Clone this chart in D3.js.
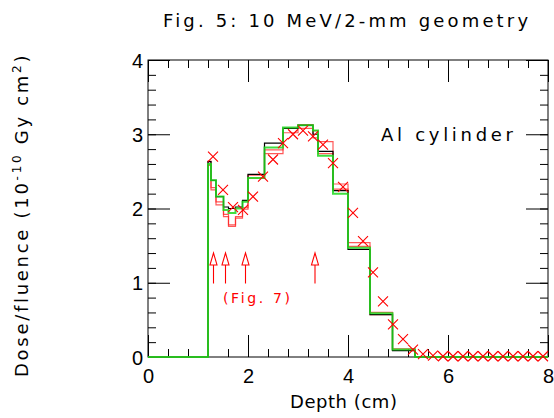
<!DOCTYPE html>
<html>
<head>
<meta charset="utf-8">
<script src="https://cdn.jsdelivr.net/npm/d3@7"></script>
<style>
  body { margin: 0; background: #fff; }
  text { font-family: "DejaVu Sans", "Liberation Sans", sans-serif; }
</style>
</head>
<body>
<script>
var chartOption = {
  width: 554,
  height: 418,
  left: 148,
  right: 548,
  top: 60,
  bottom: 357
};

// bin edges in cm, shared by the three histograms
var binEdges = [0, 1.2, 1.26, 1.36, 1.51, 1.61, 1.75, 1.89, 2.0, 2.33, 2.7, 3.0, 3.3, 3.4, 3.7, 4.0, 4.44, 4.89, 5.34, 8.0];
var blackValues = [0, 2.63, 2.38, 2.16, 2.02, 2.0, 2.02, 2.11, 2.46, 2.88, 3.08, 3.12, 3.0, 2.77, 2.24, 1.45, 0.57, 0.085, 0];
var greenValues = [0, 2.6, 2.38, 2.16, 1.98, 1.94, 2.0, 2.09, 2.41, 2.82, 3.09, 3.12, 3.05, 2.71, 2.2, 1.47, 0.59, 0.1, 0];
var redLow = [0, 2.58, 2.25, 2.05, 1.89, 1.76, 1.87, 1.99, 2.41, 2.74, 3.02, 3.08, 2.95, 2.74, 2.26, 1.49, 0.57, 0.09, 0];
var redHigh = [0, 2.64, 2.28, 2.09, 1.92, 1.78, 1.89, 2.01, 2.45, 2.79, 3.08, 3.13, 3.05, 2.9, 2.33, 1.54, 0.6, 0.11, 0];

// measured points (red crosses)
var crossDepth = [1.3, 1.5, 1.7, 1.9, 2.1, 2.3, 2.5, 2.7, 2.9, 3.1, 3.3, 3.5, 3.7, 3.9, 4.1, 4.3, 4.5, 4.7, 4.9, 5.1, 5.3,
                  5.5, 5.7, 5.9, 6.1, 6.3, 6.5, 6.7, 6.9, 7.1, 7.3, 7.5, 7.7, 7.9];
var crossDose = [2.70, 2.25, 2.02, 1.98, 2.16, 2.43, 2.66, 2.88, 3.0, 3.05, 2.97, 2.86, 2.61, 2.29, 1.94, 1.56, 1.14, 0.75, 0.44, 0.24, 0.1,
                 0.04, 0.02, 0.01, 0.01, 0.01, 0.01, 0.01, 0.01, 0.01, 0.01, 0.01, 0.01, 0.01];

// arrows pointing at the depths used in Fig. 7
var arrowDepth = [1.31, 1.55, 1.95, 3.34];

var xTicks = [0, 2, 4, 6, 8];
var yTicks = [0, 1, 2, 3, 4];

var x = d3.scaleLinear().domain([0, 8]).range([chartOption.left, chartOption.right]);
var y = d3.scaleLinear().domain([0, 4]).range([chartOption.bottom, chartOption.top]);

var svg = d3.select('body')
            .append('svg')
            .attr('width', chartOption.width)
            .attr('height', chartOption.height);

// squeeze or stretch a text to a given width with letter spacing
var fitText = function(sel, target){
  var n = sel.text().length;
  var len = sel.node().getComputedTextLength();
  sel.attr('letter-spacing', ((target - len) / Math.max(n - 1, 1)).toFixed(2));
};

var minorX = d3.range(0, 8.001, 0.4).map(function(d){ return +d.toFixed(1); });
var minorY = d3.range(0, 4.001, 0.2).map(function(d){ return +d.toFixed(1); });

var axisGroup = svg.append('g');

var addAxis = function(axis, tx, ty, labels){
  var g = axisGroup.append('g')
                   .attr('transform', 'translate(' + tx + ',' + ty + ')')
                   .call(axis);
  g.select('.domain').remove();
  g.selectAll('line').attr('stroke', '#000').attr('stroke-width', 1);
  if (!labels) g.selectAll('text').remove();
  return g;
};

// ticks point inward on all four sides
addAxis(d3.axisBottom(x).tickValues(minorX).tickSize(-8), 0, chartOption.bottom, false);
addAxis(d3.axisTop(x).tickValues(minorX).tickSize(-8), 0, chartOption.top, false);
addAxis(d3.axisLeft(y).tickValues(minorY).tickSize(-8), chartOption.left, 0, false);
addAxis(d3.axisRight(y).tickValues(minorY).tickSize(-8), chartOption.right, 0, false);

var xAxis = addAxis(d3.axisBottom(x).tickValues(xTicks).tickFormat(d3.format('d')).tickSize(-22).tickPadding(0), 0, chartOption.bottom, true);
addAxis(d3.axisTop(x).tickValues(xTicks).tickSize(-22), 0, chartOption.top, false);
var yAxis = addAxis(d3.axisLeft(y).tickValues(yTicks).tickFormat(d3.format('d')).tickSize(-22).tickPadding(0), chartOption.left, 0, true);
addAxis(d3.axisRight(y).tickValues(yTicks).tickSize(-22), chartOption.right, 0, false);

xAxis.selectAll('text')
     .attr('y', 12)
     .attr('dy', '0.71em')
     .style('font-family', '"Liberation Sans", sans-serif')
     .style('font-size', '20px')
     .attr('fill', '#000');
yAxis.selectAll('text')
     .attr('x', -5)
     .attr('dy', '0.36em')
     .style('font-family', '"Liberation Sans", sans-serif')
     .style('font-size', '20px')
     .attr('fill', '#000');

axisGroup.append('rect')
         .attr('x', chartOption.left)
         .attr('y', chartOption.top)
         .attr('width', chartOption.right - chartOption.left)
         .attr('height', chartOption.bottom - chartOption.top)
         .attr('fill', 'none')
         .attr('stroke', '#000')
         .attr('stroke-width', 1);

// step histogram path
var stepPath = function(values){
  var p = 'M' + x(binEdges[0]) + ',' + y(values[0]);
  for (var i = 0; i < values.length; i++){
    p += 'L' + x(binEdges[i]) + ',' + y(values[i]);
    p += 'L' + x(binEdges[i + 1]) + ',' + y(values[i]);
  }
  return p;
};

var histGroup = svg.append('g');

histGroup.append('path')
         .attr('d', stepPath(redLow))
         .attr('fill', 'none')
         .attr('stroke', '#ff2020')
         .attr('stroke-opacity', 0.75)
         .attr('stroke-width', 1.2);
histGroup.append('path')
         .attr('d', stepPath(redHigh))
         .attr('fill', 'none')
         .attr('stroke', '#ff2020')
         .attr('stroke-opacity', 0.75)
         .attr('stroke-width', 1.2);
histGroup.append('path')
         .attr('d', stepPath(blackValues))
         .attr('fill', 'none')
         .attr('stroke', '#000')
         .attr('stroke-width', 1.2);
histGroup.append('path')
         .attr('d', stepPath(greenValues))
         .attr('fill', 'none')
         .attr('stroke', '#1ed81e')
         .attr('stroke-opacity', 0.85)
         .attr('stroke-width', 2);

// red crosses
var crosses = d3.zip(crossDepth, crossDose);
svg.append('g')
   .selectAll('path')
   .data(crosses)
   .enter()
     .append('path')
     .attr('d', function(d){
       var cx = x(d[0]), cy = y(d[1]), s = 5;
       return 'M' + (cx - s) + ',' + (cy - s) + 'L' + (cx + s) + ',' + (cy + s) +
              'M' + (cx - s) + ',' + (cy + s) + 'L' + (cx + s) + ',' + (cy - s);
     })
     .attr('stroke', '#ff0000')
     .attr('stroke-width', 1.1)
     .attr('fill', 'none');

// arrows
var arrowGroup = svg.append('g')
                    .attr('stroke', '#ff0000')
                    .attr('stroke-width', 1.1)
                    .attr('fill', 'none');
arrowGroup.selectAll('path')
          .data(arrowDepth)
          .enter()
            .append('path')
            .attr('d', function(d){
              var ax = x(d), tip = y(1.4), base = y(1.24), tail = y(0.99);
              return 'M' + ax + ',' + tail + 'L' + ax + ',' + base +
                     'M' + (ax - 3.5) + ',' + base + 'L' + ax + ',' + tip + 'L' + (ax + 3.5) + ',' + base + 'Z';
            });

// texts
var title = svg.append('text')
               .attr('x', 163)
               .attr('y', 27)
               .style('font-size', '18px')
               .attr('fill', '#000')
               .text('Fig. 5: 10 MeV/2-mm geometry');
fitText(title, 365);

var material = svg.append('text')
                  .attr('x', 381)
                  .attr('y', 141)
                  .style('font-size', '18px')
                  .attr('fill', '#000')
                  .text('Al cylinder');
fitText(material, 132);

var figRef = svg.append('text')
                .attr('x', 223)
                .attr('y', 303)
                .style('font-size', '14px')
                .attr('fill', '#ff0000')
                .text('(Fig. 7)');
fitText(figRef, 67);

var xLabel = svg.append('text')
                .attr('x', 290)
                .attr('y', 408)
                .style('font-size', '18px')
                .attr('fill', '#000')
                .text('Depth (cm)');
fitText(xLabel, 107);

var yLabel = svg.append('text')
                .attr('transform', 'translate(28,377) rotate(-90)')
                .style('font-size', '18px')
                .attr('fill', '#000');
yLabel.append('tspan').text('Dose/fluence (10');
yLabel.append('tspan').attr('dy', -7).style('font-size', '12px').text('-10');
yLabel.append('tspan').attr('dy', 7).text(' Gy cm');
yLabel.append('tspan').attr('dy', -7).style('font-size', '12px').text('2');
yLabel.append('tspan').attr('dy', 7).text(')');
var yLen = yLabel.node().getComputedTextLength();
yLabel.attr('letter-spacing', ((327 - yLen) / 28).toFixed(2));
</script>
</body>
</html>
